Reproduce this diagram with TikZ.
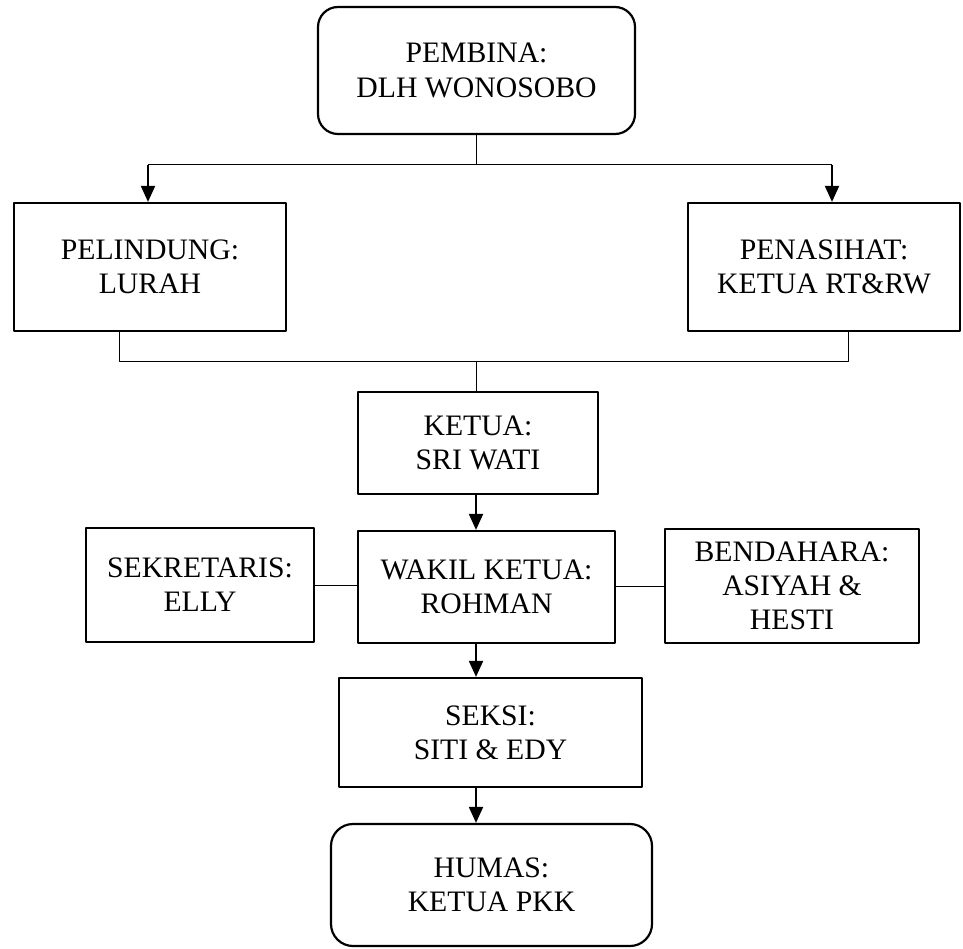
\documentclass[tikz,border=0pt]{standalone}
\usepackage{fontspec}
\setmainfont{Liberation Serif}
\usetikzlibrary{arrows.meta}
\tikzset{box/.style={draw, line width=2.2pt, align=center, inner sep=0pt, font=\fontsize{29.7}{34.3}\selectfont}}
\tikzset{rbox/.style={box, rounded corners=20pt}}
\tikzset{arr/.style={line width=2pt, -{Triangle[length=16pt,width=14pt]}}}
\tikzset{ln/.style={line width=1pt}}

\begin{document}
\begin{tikzpicture}[x=1pt,y=-1pt,line join=round]
  \useasboundingbox (0,0) rectangle (963,949);
  % boxes
  \node[rbox, minimum width=317pt, minimum height=127pt] (pembina) at (476.5,70.5) {PEMBINA:\\DLH WONOSOBO};
  \node[box, minimum width=272pt, minimum height=128pt] (pelindung) at (150,267) {PELINDUNG:\\LURAH};
  \node[box, minimum width=272pt, minimum height=128pt] (penasihat) at (824,267) {PENASIHAT:\\KETUA RT\&RW};
  \node[box, minimum width=240pt, minimum height=102pt] (ketua) at (478,443) {KETUA:\\SRI WATI};
  \node[box, minimum width=257pt, minimum height=112pt] (wakil) at (486.5,587) {WAKIL KETUA:\\ROHMAN};
  \node[box, minimum width=228pt, minimum height=114pt] (sekretaris) at (200,585) {SEKRETARIS:\\ELLY};
  \node[box, minimum width=254pt, minimum height=114pt] (bendahara) at (792,586) {BENDAHARA:\\ASIYAH \&\\HESTI};
  \node[box, minimum width=303pt, minimum height=109pt] (seksi) at (490.5,732.5) {SEKSI:\\SITI \& EDY};
  \node[rbox, rounded corners=22pt, minimum width=321pt, minimum height=122pt] (humas) at (491.5,885) {HUMAS:\\KETUA PKK};
  % junction points
  \coordinate (fl) at (148,165);
  \coordinate (fr) at (832,165);
  \coordinate (jl) at (119,361);
  \coordinate (jr) at (848,361);
  \coordinate (axis) at (476,361);
  % connectors
  \draw[ln] (pembina.south) -- (pembina.south |- fl);
  \draw[ln] (fl) -- (fr);
  \draw[arr] (fl) -- (fl |- pelindung.north);
  \draw[arr] (fr) -- (fr |- penasihat.north);
  \draw[ln] (pelindung.south -| jl) -- (jl) -- (jr) -- (penasihat.south -| jr);
  \draw[ln] (axis) -- (ketua.north -| axis);
  \draw[arr] (ketua.south -| axis) -- (wakil.north -| axis);
  \draw[ln] (sekretaris.east) -- (sekretaris.east -| wakil.west);
  \draw[ln] (wakil.east |- bendahara.west) -- (bendahara.west);
  \draw[arr] (wakil.south -| axis) -- (seksi.north -| axis);
  \draw[arr] (seksi.south -| axis) -- (humas.north -| axis);
\end{tikzpicture}
\end{document}
